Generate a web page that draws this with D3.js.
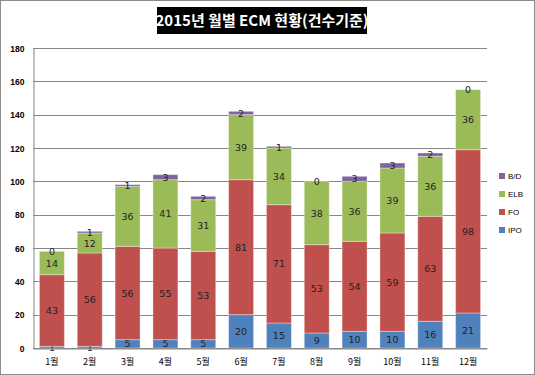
<!DOCTYPE html>
<html>
<head>
<meta charset="utf-8">
<script src="https://cdn.jsdelivr.net/npm/d3@7/dist/d3.min.js"></script>
<style>
body { margin: 0; background: #fff; }
text { font-family: "Noto Sans CJK KR", "DejaVu Sans", sans-serif; }
</style>
</head>
<body>
<div id="chart"></div>
<script>
// data
var months = ["1월", "2월", "3월", "4월", "5월", "6월", "7월", "8월", "9월", "10월", "11월", "12월"];
var seriesNames = ["IPO", "FO", "ELB", "B/D"];
var ipo = [1, 1, 5, 5, 5, 20, 15, 9, 10, 10, 16, 21];
var fo = [43, 56, 56, 55, 53, 81, 71, 53, 54, 59, 63, 98];
var elb = [14, 12, 36, 41, 31, 39, 34, 38, 36, 39, 36, 36];
var bd = [0, 1, 1, 3, 2, 2, 1, 0, 3, 3, 2, 0];
var yTicks = [0, 20, 40, 60, 80, 100, 120, 140, 160, 180];
var colors = ["#4F81BD", "#C0504D", "#9BBB59", "#8064A2"];

var W = 535, H = 375;
var svg = d3.select("#chart").append("svg")
    .attr("width", W)
    .attr("height", H);

// outer frame
svg.append("rect")
    .attr("x", 0.5).attr("y", 0.5)
    .attr("width", W - 1).attr("height", H - 1)
    .attr("fill", "#fff")
    .attr("stroke", "#8c8c8c");

// title box
svg.append("rect")
    .attr("x", 157).attr("y", 7)
    .attr("width", 210).attr("height", 27)
    .attr("fill", "#000");
svg.append("text")
    .attr("x", 262).attr("y", 26)
    .attr("text-anchor", "middle")
    .attr("fill", "#fff")
    .attr("font-size", 15)
    .attr("font-weight", "bold")
    .text("2015년 월별 ECM 현황(건수기준)");

var x = d3.scaleBand().domain(months).range([33, 487]).paddingInner(0.34).paddingOuter(0.17);
var y = d3.scaleLinear().domain([0, 180]).range([348, 48]);

// gridlines
svg.append("g")
    .selectAll("line")
    .data(yTicks)
    .enter().append("line")
    .attr("x1", 33).attr("x2", 487)
    .attr("y1", function (d) { return Math.round(y(d)) + 0.5; })
    .attr("y2", function (d) { return Math.round(y(d)) + 0.5; })
    .attr("stroke", "#868686");

// y axis
var yAxis = svg.append("g")
    .attr("transform", "translate(33.5,0.5)")
    .call(d3.axisLeft(y).tickValues(yTicks).tickSize(0).tickPadding(9));
yAxis.select(".domain").attr("stroke", "#868686");
yAxis.selectAll("text")
    .attr("font-size", 8.5)
    .attr("font-weight", "bold")
    .attr("fill", "#000")
    .style("font-family", "'Liberation Sans', sans-serif");

// stack the series
var table = months.map(function (m, i) {
    return { month: m, IPO: ipo[i], FO: fo[i], ELB: elb[i], "B/D": bd[i] };
});
var stacked = d3.stack().keys(seriesNames)(table);

var layers = svg.selectAll(".layer")
    .data(stacked)
    .enter().append("g")
    .attr("class", "layer")
    .attr("fill", function (d, i) { return colors[i]; });

layers.selectAll("rect")
    .data(function (d) { return d; })
    .enter().append("rect")
    .attr("x", function (d) { return x(d.data.month); })
    .attr("width", x.bandwidth())
    .attr("y", function (d) { return y(d[1]); })
    .attr("height", function (d) { return y(d[0]) - y(d[1]); })
    .attr("stroke", "rgba(255,255,255,0.35)")
    .attr("stroke-width", 1);

// value labels
layers.selectAll("text")
    .data(function (d) { return d.map(function (p) { p.key = d.key; return p; }); })
    .enter().append("text")
    .attr("x", function (d) { return x(d.data.month) + x.bandwidth() / 2; })
    .attr("y", function (d) { return (y(d[0]) + y(d[1])) / 2 + 3.5; })
    .attr("text-anchor", "middle")
    .attr("font-size", 9.5)
    .attr("fill", "#222")
    .style("font-family", "'DejaVu Sans', sans-serif")
    .text(function (d) { return d.data[d.key]; });

// bottom axis
var xAxis = svg.append("g")
    .attr("transform", "translate(0," + (Math.round(y(0)) + 0.5) + ")")
    .call(d3.axisBottom(x).tickSize(0).tickPadding(10));
xAxis.select(".domain").attr("stroke", "#868686");
xAxis.selectAll("text")
    .attr("font-size", 9)
    .attr("fill", "#000");

// legend
var legend = svg.append("g")
    .selectAll("g")
    .data(seriesNames.slice().reverse())
    .enter().append("g")
    .attr("transform", function (d, i) { return "translate(499," + (173 + i * 18) + ")"; });
legend.append("rect")
    .attr("width", 6).attr("height", 6)
    .attr("fill", function (d) { return colors[seriesNames.indexOf(d)]; });
legend.append("text")
    .attr("x", 9).attr("y", 6)
    .attr("font-size", 8)
    .attr("fill", "#000")
    .style("font-family", "'Liberation Sans', sans-serif")
    .text(function (d) { return d; });
</script>
</body>
</html>
